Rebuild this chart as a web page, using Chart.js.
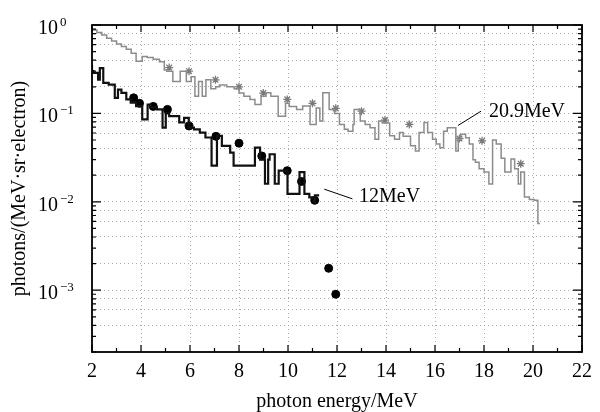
<!DOCTYPE html>
<html>
<head>
<meta charset="utf-8">
<script src="https://cdn.jsdelivr.net/npm/chart.js@4/dist/chart.umd.min.js"></script>
<style>
  html, body { margin: 0; padding: 0; background: #fff; }
  #wrap { width: 600px; height: 412px; }
</style>
</head>
<body>
<div id="wrap"><canvas id="grafico" width="600" height="412"></canvas></div>
<script>
// ==================== Dados ====================
// espectro 20.9 MeV (histograma cinza): borda esquerda de cada degrau e valor
const grayE = [2.00,2.20,2.40,2.60,2.80,3.00,3.20,3.40,3.60,3.80,4.05,4.25,4.50,4.75,4.95,5.05,5.30,5.60,5.85,6.05,
  6.20,6.35,6.50,6.65,6.85,7.05,7.20,7.50,7.80,8.00,8.20,8.45,8.65,8.90,9.10,9.30,9.60,9.90,10.05,10.35,
  10.60,10.90,11.15,11.30,11.42,11.68,11.90,12.10,12.30,12.45,12.65,12.70,12.95,13.15,13.35,13.55,13.70,13.85,14.15,14.35,
  14.55,14.70,15.00,15.20,15.35,15.55,15.70,15.90,16.05,16.20,16.35,16.50,16.85,16.95,17.05,17.25,17.40,17.55,17.65,17.80,
  18.00,18.20,18.35,18.50,18.70,18.85,19.10,19.25,19.40,19.50,19.65,19.85,20.05,20.20,20.28];
const grayV = [0.93,0.88,0.82,0.77,0.71,0.66,0.61,0.57,0.53,0.48,0.39,0.44,0.43,0.41,0.385,0.31,0.30,0.23,0.30,0.23,
  0.26,0.156,0.23,0.156,0.24,0.19,0.20,0.21,0.20,0.19,0.17,0.156,0.144,0.126,0.156,0.171,0.156,0.093,0.13,0.12,
  0.111,0.121,0.075,0.115,0.082,0.171,0.111,0.10,0.075,0.066,0.063,0.075,0.111,0.082,0.075,0.069,0.051,0.082,0.078,0.056,
  0.051,0.061,0.055,0.043,0.0375,0.061,0.079,0.061,0.051,0.045,0.041,0.063,0.069,0.0375,0.051,0.058,0.053,0.045,0.030,0.028,
  0.0236,0.0217,0.0159,0.050,0.045,0.031,0.0217,0.0305,0.0236,0.0159,0.0217,0.0113,0.0106,0.0104,0.0057];

// espectro 12 MeV (histograma preto)
const blackE = [2.00,2.05,2.25,2.32,2.46,2.68,2.93,3.06,3.20,3.40,3.58,3.80,4.05,4.27,4.41,4.65,4.88,5.01,5.15,5.56,
  5.76,5.95,6.16,6.40,6.63,6.88,7.10,7.30,7.64,7.78,8.65,8.86,9.06,9.19,9.25,9.46,9.62,9.98,10.47,10.67,
  10.87,11.07,11.10,11.27];
const blackV = [0.355,0.30,0.287,0.241,0.326,0.221,0.212,0.15,0.186,0.171,0.144,0.132,0.121,0.0856,0.126,0.117,0.111,0.069,0.10,0.093,
  0.079,0.089,0.069,0.066,0.0607,0.0534,0.0256,0.0556,0.043,0.036,0.0256,0.041,0.03,0.016,0.03,0.0345,0.016,0.0225,0.0123,0.0217,
  0.0123,0.0112,0.010,0.0118];

// pontos medidos
const grayPtE = [5.15,5.96,7.04,8.0,8.99,9.97,11.0,11.95,13.0,13.96,14.95,17.0,17.92,19.5];
const grayPtV = [0.33,0.30,0.24,0.20,0.17,0.144,0.13,0.114,0.106,0.084,0.075,0.052,0.049,0.027];
const blackPtE = [3.7,3.94,4.5,5.08,5.96,7.06,8.0,8.93,9.97,10.55,11.09,11.66,11.95];
const blackPtV = [0.15,0.13,0.12,0.111,0.072,0.055,0.046,0.033,0.0225,0.017,0.0104,0.00177,0.0009];

// eixos
const xMin = 2, xMax = 22, xStep = 2;
const yMin = 2e-4, yMax = 1;
const yDecades = [0, -1, -2, -3];
const yGridMult = [1, 2, 4, 6, 8];

// rótulos: texto, posição do texto e linha indicadora (unidades dos dados)
const labels = [
  { text: '20.9MeV', at: [18.2, 0.105], line: [[17.88, 0.106], [16.94, 0.073]] },
  { text: '12MeV', at: [12.9, 0.0114], line: [[12.63, 0.0108], [11.48, 0.0139]] }
];

const FONT = "'Liberation Serif', 'Times New Roman', serif";

function toPoints(xs, ys) {
  return xs.map((x, i) => ({ x: x, y: ys[i] }));
}

// ==================== Plugin: moldura, ticks internos, rótulos ====================
const molduraPlugin = {
  id: 'moldura',
  afterDraw(chart) {
    const ctx = chart.ctx;
    const a = chart.chartArea;
    const sx = chart.scales.x, sy = chart.scales.y;
    ctx.save();

    // ticks internos no eixo x
    ctx.strokeStyle = '#000';
    ctx.lineWidth = 1.2;
    for (let v = xMin; v <= xMax; v += 1) {
      const px = sx.getPixelForValue(v);
      const len = (v % 2 === 0) ? 7 : 4;
      ctx.beginPath();
      ctx.moveTo(px, a.bottom); ctx.lineTo(px, a.bottom - len);
      ctx.moveTo(px, a.top); ctx.lineTo(px, a.top + len);
      ctx.stroke();
    }
    // ticks internos no eixo y
    for (let d = -4; d <= 0; d++) {
      for (let m = 1; m <= 9; m++) {
        const v = m * Math.pow(10, d);
        if (v < yMin * 0.999 || v > yMax * 1.001) continue;
        const py = sy.getPixelForValue(v);
        const len = (m === 1) ? 9 : 4;
        ctx.beginPath();
        ctx.moveTo(a.left, py); ctx.lineTo(a.left + len, py);
        ctx.moveTo(a.right, py); ctx.lineTo(a.right - len, py);
        ctx.stroke();
      }
    }

    // moldura
    ctx.lineWidth = 1.8;
    ctx.strokeRect(a.left, a.top, a.right - a.left, a.bottom - a.top);

    // rótulos do eixo y com expoente (alinhados à esquerda)
    ctx.fillStyle = '#000';
    ctx.textBaseline = 'alphabetic';
    ctx.textAlign = 'left';
    yDecades.forEach(d => {
      const py = sy.getPixelForValue(Math.pow(10, d));
      const exp = d === 0 ? '0' : '\u2212' + Math.abs(d);
      const x0 = a.left - 54;
      ctx.font = '20px ' + FONT;
      const w1 = ctx.measureText('10').width;
      ctx.fillText('10', x0, py + 9);
      ctx.font = '13px ' + FONT;
      ctx.fillText(exp, x0 + w1 + 2, py + 1);
    });

    // rótulos das curvas
    ctx.font = '20px ' + FONT;
    ctx.textAlign = 'left';
    ctx.textBaseline = 'middle';
    ctx.lineWidth = 1;
    labels.forEach(l => {
      ctx.fillText(l.text, sx.getPixelForValue(l.at[0]), sy.getPixelForValue(l.at[1]));
      ctx.beginPath();
      ctx.moveTo(sx.getPixelForValue(l.line[0][0]), sy.getPixelForValue(l.line[0][1]));
      ctx.lineTo(sx.getPixelForValue(l.line[1][0]), sy.getPixelForValue(l.line[1][1]));
      ctx.stroke();
    });

    ctx.restore();
  }
};

// ==================== Gráfico ====================
window.addEventListener('load', () => {
  const ctx = document.getElementById('grafico').getContext('2d');
  new Chart(ctx, {
    type: 'line',
    data: {
      datasets: [
        { label: '20.9MeV', data: toPoints(grayE, grayV), stepped: 'after', borderColor: '#8c8c8c',
          borderWidth: 1.5, pointRadius: 0, fill: false },
        { label: '20.9MeV medido', data: toPoints(grayPtE, grayPtV), showLine: false, pointStyle: 'star',
          pointRadius: 4, borderColor: '#7a7a7a', borderWidth: 1.3, backgroundColor: '#bbb' },
        { label: '12MeV', data: toPoints(blackE, blackV), stepped: 'after', borderColor: '#111',
          borderWidth: 2.2, pointRadius: 0, fill: false },
        { label: '12MeV medido', data: toPoints(blackPtE, blackPtV), showLine: false, pointStyle: 'circle',
          pointRadius: 4, borderColor: '#000', borderWidth: 1, backgroundColor: '#000' }
      ]
    },
    options: {
      responsive: false,
      animation: false,
      layout: { padding: { top: 25, right: 13, left: 0, bottom: 0 } },
      plugins: { legend: { display: false }, tooltip: { enabled: false } },
      scales: {
        x: {
          type: 'linear', min: xMin, max: xMax,
          afterFit: s => { s.height = 60; },
          ticks: { stepSize: xStep, color: '#000', font: { family: FONT, size: 20 }, padding: 8, maxRotation: 0 },
          grid: { color: '#aaaaaa', lineWidth: 1, drawTicks: false },
          border: { display: false, dash: [1, 3] },
          title: { display: true, text: 'photon energy/MeV', color: '#000',
                   font: { family: FONT, size: 20 }, padding: { top: 0, bottom: -2 } }
        },
        y: {
          type: 'logarithmic', min: yMin, max: yMax,
          afterFit: s => { s.width = 92; },
          afterBuildTicks: s => {
            const t = [];
            for (let d = -4; d <= 0; d++) {
              yGridMult.forEach(m => {
                const v = m * Math.pow(10, d);
                if (v >= yMin * 0.999 && v <= yMax * 1.001) t.push({ value: v });
              });
            }
            s.ticks = t;
          },
          ticks: { display: false },
          grid: { color: '#aaaaaa', lineWidth: 1, drawTicks: false },
          border: { display: false, dash: [1, 3] },
          title: { display: true, text: 'photons/(MeV\u00b7sr\u00b7electron)', color: '#000',
                   font: { family: FONT, size: 20 }, padding: { top: 8, bottom: 0 } }
        }
      }
    },
    plugins: [molduraPlugin]
  });
});
</script>
</body>
</html>
